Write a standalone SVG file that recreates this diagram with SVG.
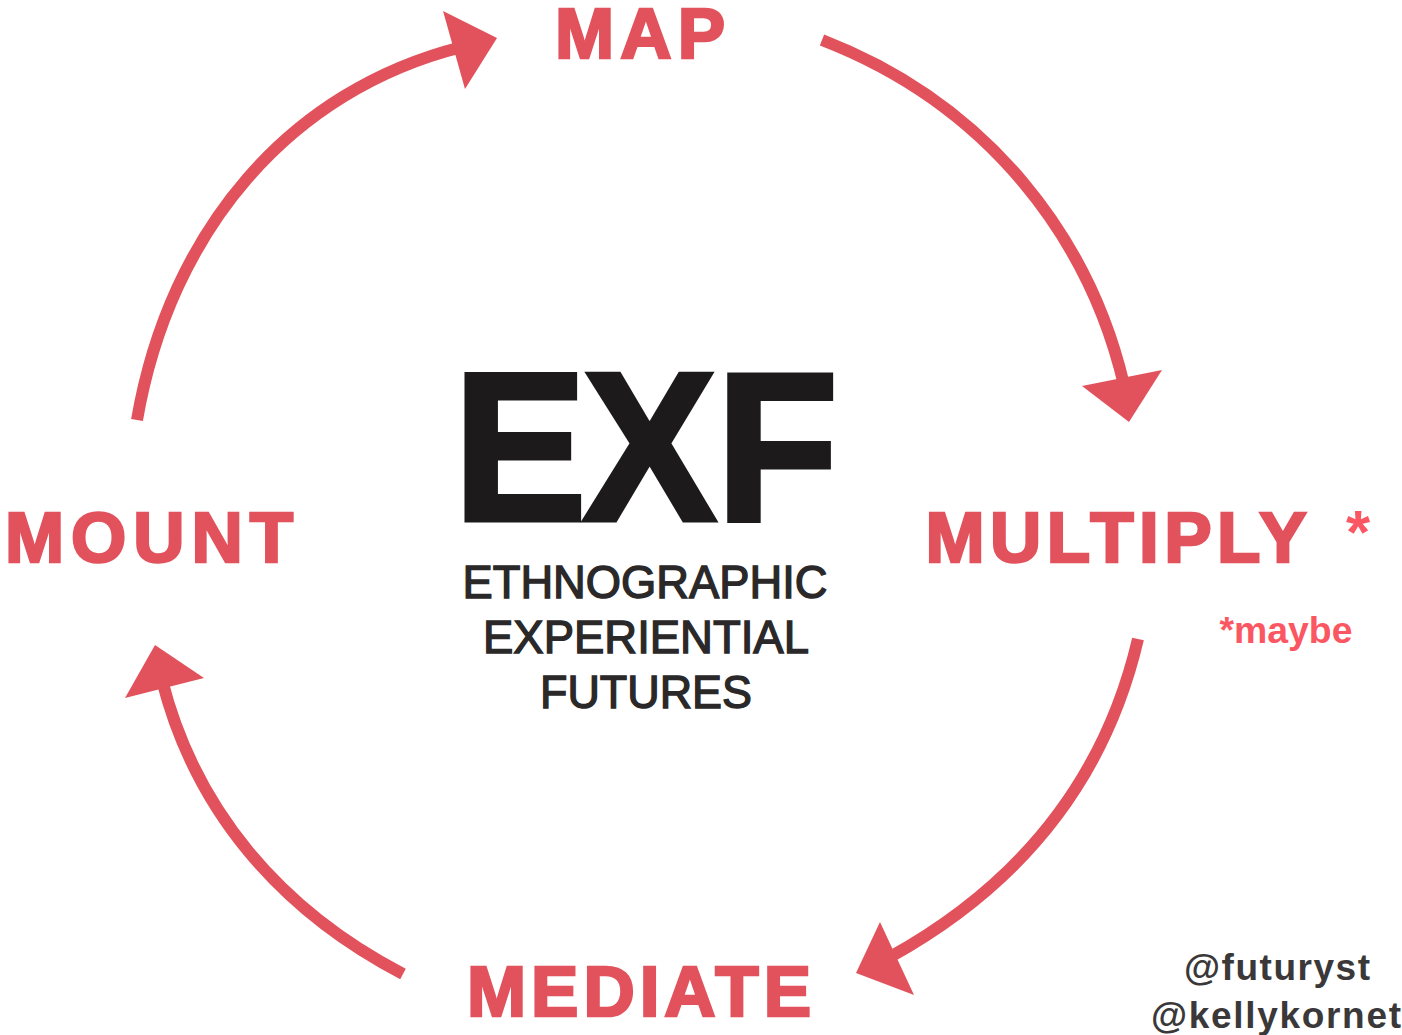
<svg xmlns="http://www.w3.org/2000/svg" width="1402" height="1035" viewBox="0 0 1402 1035">
<style>
.l{font-family:"Liberation Sans",Arial,sans-serif;font-weight:700;font-size:71px;fill:#e2525c;stroke:#e2525c;stroke-width:2.6px;text-anchor:middle}
.k{font-family:"Liberation Sans",Arial,sans-serif;font-size:47px;fill:#2a2829;stroke:#2a2829;stroke-width:1.4px;text-anchor:middle}
.e{font-family:"Liberation Sans",Arial,sans-serif;font-weight:700;font-size:211px;fill:#1c1a1b;stroke:#1c1a1b;stroke-width:5px;stroke-linejoin:miter}
.c{fill:none;stroke:#e2525c;stroke-width:12}
.h{fill:#e2525c}
.m{font-family:"Liberation Sans",Arial,sans-serif;font-weight:700;fill:#fb5762;text-anchor:middle}
.s{font-family:"Liberation Sans",Arial,sans-serif;font-weight:700;fill:#3a3839;text-anchor:middle;font-size:37px}
</style>
<rect width="1402" height="1035" fill="#fff"/>
<g id="connectors">
<path class="c" d="M137 420C170 230 290 90 462 47"/>
<polygon class="h" points="443,11 497,38 465,89"/>
<path class="c" d="M822 40C990 105 1090 240 1124 385"/>
<polygon class="h" points="1082,386 1162,370 1129,422"/>
<path class="c" d="M1138 639C1105 780 1020 885 890 957"/>
<polygon class="h" points="880,922 914,995 856,973"/>
<path class="c" d="M403 974C280 910 195 810 162 680"/>
<polygon class="h" points="155,645 204,678 125,698"/>
</g>
<g id="map"><text class="l" x="640" y="58" textLength="170" lengthAdjust="spacing">MAP</text></g>
<g id="mount"><text class="l" x="149" y="562" textLength="288" lengthAdjust="spacing">MOUNT</text></g>
<g id="multiply"><text class="l" x="1116" y="562" textLength="381" lengthAdjust="spacing">MULTIPLY</text></g>
<g id="mediate"><text class="l" x="639" y="1016" textLength="344" lengthAdjust="spacing">MEDIATE</text></g>
<g id="center">
<text class="e" transform="scale(.945 1)" x="480 617 758" y="520">EXF</text>
<text class="k" x="645" y="598" textLength="365" lengthAdjust="spacingAndGlyphs">ETHNOGRAPHIC</text>
<text class="k" x="646" y="653" textLength="326" lengthAdjust="spacingAndGlyphs">EXPERIENTIAL</text>
<text class="k" x="646" y="708" textLength="212" lengthAdjust="spacingAndGlyphs">FUTURES</text>
</g>
<g id="maybe">
<text class="m" x="1358" y="553" font-size="62">*</text>
<text class="m" x="1286" y="643" font-size="36" textLength="133" lengthAdjust="spacingAndGlyphs">*maybe</text>
</g>
<g id="credits">
<text class="s" x="1277" y="980" textLength="186" lengthAdjust="spacing">@futuryst</text>
<text class="s" x="1276" y="1028" textLength="250" lengthAdjust="spacing">@kellykornet</text>
</g>
</svg>
